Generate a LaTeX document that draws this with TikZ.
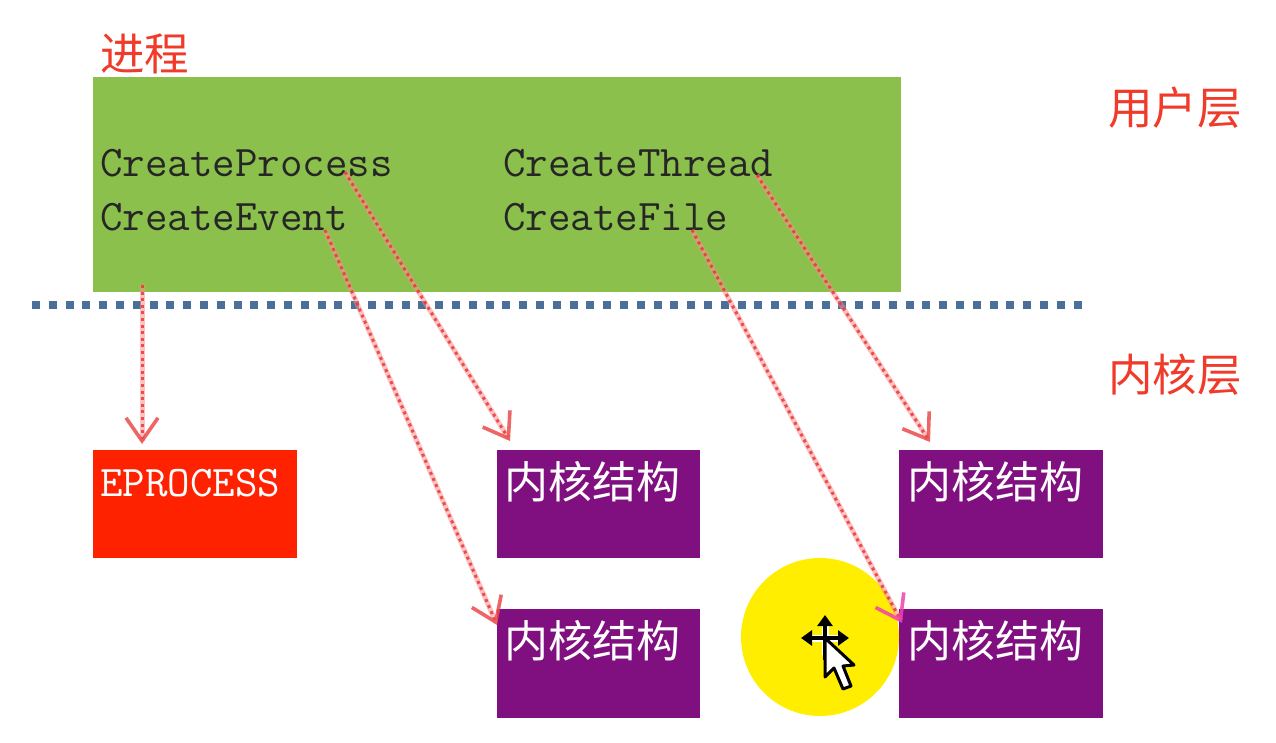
\documentclass[tikz,border=0pt]{standalone}
\usepackage{fontspec}
\usetikzlibrary{arrows.meta}
\newfontfamily\cjk{Noto Sans CJK SC}
\definecolor{grn}{HTML}{8CC04C}
\definecolor{prp}{HTML}{800F80}
\definecolor{rd}{HTML}{FF2200}
\definecolor{lbl}{HTML}{F03A2A}
\definecolor{blu}{HTML}{4A7098}
\definecolor{arw}{HTML}{E83838}
\definecolor{hal}{HTML}{FF9090}
\definecolor{ylw}{HTML}{FFEE00}
\definecolor{mag}{HTML}{F040B0}
\tikzset{
 x=1pt,y=-1pt,
 boxp/.style={fill=prp,minimum width=204pt,minimum height=108pt,inner sep=0pt,anchor=north west},
 boxr/.style={fill=rd,minimum width=204pt,minimum height=108pt,inner sep=0pt,anchor=north west},
 lab/.style={text=lbl,inner sep=0pt,anchor=west,font=\cjk\fontsize{44.5}{44.5}\selectfont},
 wlab/.style={text=white,inner sep=0pt,anchor=west,font=\cjk\fontsize{44}{44}\selectfont},
 api/.style={text=black!85,inner sep=0pt,anchor=base west,font=\ttfamily\fontsize{43.7}{43.7}\selectfont},
 halo/.style={draw=hal,line width=5pt,draw opacity=.55,shorten >=3pt},
 cn/.style={draw=arw,line width=3pt,dash pattern=on 3pt off 3.6pt,draw opacity=.85,
   -{Straight Barb[length=23pt,width=32pt,line width=3.6pt,color=arw!90!white]}},
 cnm/.style={draw=arw,line width=3pt,dash pattern=on 3pt off 3.6pt,draw opacity=.85,
   -{Straight Barb[length=23pt,width=32pt,line width=3.6pt,color=mag]}},
}
\begin{document}
\begin{tikzpicture}
\useasboundingbox (0,0) rectangle (1276,742);
\fill[white] (0,0) rectangle (1276,742);
\node[fill=grn,minimum width=808pt,minimum height=215pt,inner sep=0pt,anchor=north west] (g) at (93,77) {};
\node[lab] (t1) at (100,54) {进程};
\node[lab] (t2) at (1108,108) {用户层};
\node[lab] (t3) at (1108,375) {内核层};
\node[api] (a1) at (100,176) {CreateProcess};
\node[api] (a2) at (100,230) {CreateEvent};
\node[api] (a3) at (503,176) {CreateThread};
\node[api] (a4) at (503,230) {CreateFile};
\coordinate (l1) at (32,305); \coordinate (l2) at (1082,305);
\draw[blu,line width=8pt,dash pattern=on 8pt off 8.8pt] (l1) -- (l2);
\node[boxr] (e) at (93,450) {};
\node[text=white,inner sep=0pt,anchor=base west,font=\ttfamily\fontsize{43.7}{43.7}\selectfont] (et) at (100,496) {EPROCESS};
\node[boxp,minimum width=203pt] (k1) at (497,450) {};
\node[boxp] (k2) at (899,450) {};
\node[boxp,minimum width=203pt,minimum height=109pt] (k3) at (497,609) {};
\node[boxp,minimum height=109pt] (k4) at (899,609) {};
\node[wlab] (w1) at (504,482) {内核结构};
\node[wlab] (w2) at (907,482) {内核结构};
\node[wlab] (w3) at (504,641) {内核结构};
\node[wlab] (w4) at (907,641) {内核结构};
\fill[ylw] (820,637) circle (79);
\coordinate (s0) at (142,285); \coordinate (e0) at (142,444);
\coordinate (s1) at (345,172); \coordinate (e1) at (510,441);
\coordinate (s2) at (325,230); \coordinate (e2) at (497,625);
\coordinate (s3) at (757,175); \coordinate (e3) at (930,442);
\coordinate (s4) at (692,230); \coordinate (e4) at (902,623);
\foreach \a/\b in {s0/e0,s1/e1,s2/e2,s3/e3,s4/e4} \draw[halo] (\a) -- (\b);
\draw[cn] (s0) -- (e0);
\draw[cn] (s1) -- (e1);
\draw[cn] (s2) -- (e2);
\draw[cn] (s3) -- (e3);
\draw[cnm] (s4) -- (e4);
% move cursor
\draw[white,line width=7pt] (805,638) -- (845,638) (825,620) -- (825,655);
\draw[black,line width=3.5pt,{Triangle[length=11pt,width=15pt]}-{Triangle[length=11pt,width=15pt]}] (801,638) -- (849,638);
\draw[black,line width=3.5pt,{Triangle[length=11pt,width=15pt]}-] (825,615) -- (825,660);
\draw[fill=white,draw=black,line width=3pt,line join=round]
 (825,638) -- (825,677) -- (834,668) -- (843,689) -- (851,686) -- (843,666) -- (854,665) -- cycle;
\end{tikzpicture}
\end{document}
